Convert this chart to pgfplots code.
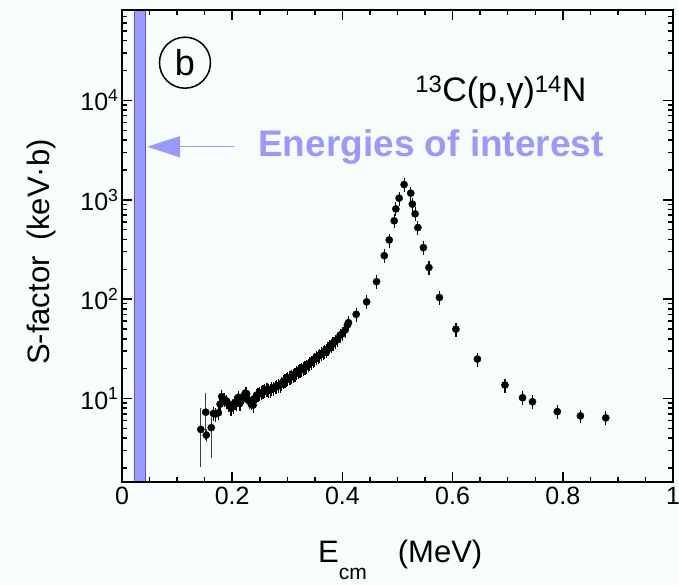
\documentclass[border=0pt]{standalone}
\usepackage{fontspec}
\setmainfont{Liberation Sans}
\usepackage{pgfplots}
\usepackage{pgfplotstable}
\pgfplotsset{compat=1.18}
\usetikzlibrary{arrows.meta}
\definecolor{lav}{HTML}{9999FF}
\definecolor{lavedge}{HTML}{5555CC}
\definecolor{bgc}{HTML}{F8FDFD}
\pgfplotstableread{
x y
0.166 7.1
0.170 7.0
0.175 7.2
0.178 8.8
0.181 10.5
0.186 9.8
0.190 9.4
0.194 8.7
0.198 8.0
0.202 8.4
0.205 9.2
0.208 8.9
0.211 10.3
0.214 9.0
0.217 9.7
0.221 10.6
0.224 11.4
0.226 11.2
0.229 9.7
0.232 9.3
0.235 9.1
0.238 8.6
0.241 10.0
0.244 10.8
0.247 11.0
0.250 11.3
0.253 11.5
0.256 11.7
0.259 12.0
0.263 12.4
0.266 12.2
0.269 12.2
0.272 12.6
0.275 12.7
0.278 13.1
0.281 13.2
0.284 13.5
0.287 13.7
0.290 14.2
0.293 14.8
0.296 15.1
0.298 15.6
0.301 15.9
0.305 16.3
0.308 16.8
0.311 17.2
0.314 17.6
0.317 18.2
0.320 18.8
0.323 19.4
0.326 19.8
0.329 20.1
0.332 20.7
0.335 21.2
0.338 21.8
0.341 22.6
0.344 23.3
0.347 24.4
0.350 25.0
0.353 26.0
0.356 26.7
0.359 27.4
0.362 28.2
0.365 28.9
0.368 29.8
0.371 30.8
0.374 31.8
0.377 33.2
0.380 34.5
0.383 36.0
0.387 37.5
0.391 39.4
0.396 43.5
0.400 45.0
0.405 49.0
0.409 55.0
0.411 58.0
0.425 70.5
0.444 94
0.462 150
0.476 274
0.485 394
0.494 614
0.497 809
0.503 1037
0.512 1422
0.524 1165
0.527 903
0.532 721
0.537 525
0.547 330
0.557 208
0.576 104
0.606 50
0.645 25
0.695 13.7
0.727 10.2
0.745 9.3
0.790 7.4
0.832 6.7
0.878 6.4
}\maindata
\pgfplotstableread{
x y ep em
0.143 4.9 3.1 2.85
0.152 7.3 4.1 3.5
0.153 4.3 0.6 0.6
0.162 5.1 1.4 2.6
}\lowdata
\begin{document}
\begin{tikzpicture}
\useasboundingbox (-122pt,-103pt) rectangle (557pt,482pt);
\fill[bgc] (-122pt,-103pt) rectangle (557pt,482pt);
\begin{axis}[
  at={(0pt,0pt)}, anchor=south west,
  scale only axis, width=551pt, height=472pt,
  xmin=0, xmax=1, ymode=log, ymin=1.45, ymax=8.1e4,
  axis on top,
  axis line style={line width=2.2pt},
  xtick={0,0.2,0.4,0.6,0.8,1},
  xticklabels={0,0.2,0.4,0.6,0.8,1},
  minor xtick={0.05,0.1,0.15,0.25,0.3,0.35,0.45,0.5,0.55,0.65,0.7,0.75,0.85,0.9,0.95},
  ytick={10,100,1000,10000},
  yticklabels={10\textsuperscript{1},10\textsuperscript{2},10\textsuperscript{3},10\textsuperscript{4}},
  minor ytick={2,3,4,5,6,7,8,9,20,30,40,50,60,70,80,90,200,300,400,500,600,700,800,900,2000,3000,4000,5000,6000,7000,8000,9000,20000,30000,40000,50000,60000,70000,80000},
  tick align=inside,
  major tick length=10pt, minor tick length=5pt,
  every tick/.style={line width=1.5pt, black},
  ticklabel style={font=\fontsize{25}{25}\selectfont},
  xticklabel style={yshift=-2pt},
  xlabel={E\raisebox{-0.55em}{\fontsize{21}{21}\selectfont cm}\quad(MeV)},
  xlabel style={at={(axis description cs:0.505,0)}, anchor=base, yshift=-80pt, font=\fontsize{31}{31}\selectfont},
  ylabel={S-factor\hspace{0.5em}(keV·b)},
  ylabel style={at={(axis description cs:-0.147,0.487)}, anchor=center, font=\fontsize{31}{31}\selectfont},
]
\addplot[fill=lav, draw=lavedge, line width=0.8pt] coordinates {(0.022,1.45) (0.042,1.45) (0.042,8.1e4) (0.022,8.1e4)} -- cycle;
\addplot[only marks, mark=*, mark size=3.6pt, black,
  error bars/.cd, y dir=both, y explicit relative,
  error bar style={line width=1.2pt, black}, error mark=none]
  table[x=x, y=y, y error expr=0.16] {\maindata};
\addplot[only marks, mark=*, mark size=3.6pt, black,
  error bars/.cd, y dir=both, y explicit,
  error bar style={line width=1.2pt, black!75}, error mark=none]
  table[x=x, y=y, y error plus=ep, y error minus=em] {\lowdata};
\draw[lav, line width=1.5pt, -{Triangle[length=33pt,width=21pt]}] (axis cs:0.2033,3413) -- (axis cs:0.0454,3413);
\node[anchor=west, inner sep=0pt, text=lav, font=\bfseries\fontsize{37}{37}\selectfont] at (axis cs:0.247,3413) {Energies of interest};
\node[anchor=base west, inner sep=0pt, font=\fontsize{34}{34}\selectfont] at (axis cs:0.532,9680) {\textsuperscript{13}C(p,γ)\textsuperscript{14}N};
\node[draw, circle, line width=1.5pt, minimum size=51pt, inner sep=0pt, font=\fontsize{36}{36}\selectfont] at (axis cs:0.1143,23900) {b};
\end{axis}
\end{tikzpicture}
\end{document}
